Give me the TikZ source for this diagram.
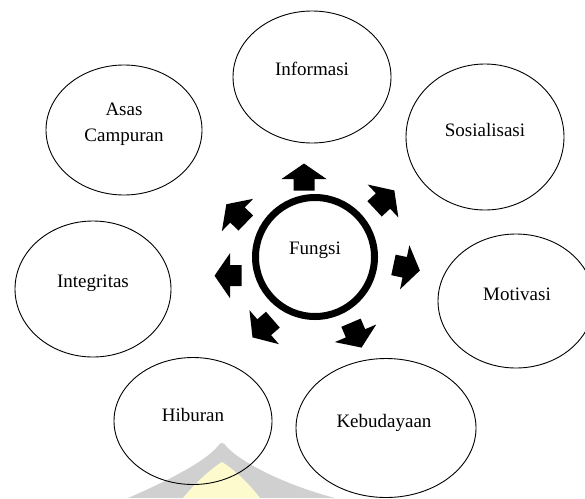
\documentclass[tikz,border=0pt]{standalone}
\usepackage{fontspec}
\setmainfont{Liberation Serif}
\usetikzlibrary{shapes.geometric}

\definecolor{markgray}{RGB}{208,208,208}
\definecolor{markyellow}{RGB}{253,251,205}

\tikzset{
  bubble/.style={draw=black, line width=0.9pt, ellipse, inner sep=0pt},
  caption/.style={anchor=base, inner sep=0pt, font=\fontsize{19}{26}\selectfont},
  hub/.style={circle, draw=black, line width=7pt, minimum size=119pt, inner sep=0pt},
  blockarrow/.pic={
    \fill[black] (15.5,0) -- (0,22.5) -- (0,10.5) -- (-11.5,10.5)
                 -- (-11.5,-10.5) -- (0,-10.5) -- (0,-22.5) -- cycle;
  }
}

\begin{document}
\begin{tikzpicture}[x=1pt, y=-1pt]
  \useasboundingbox (0,0) rectangle (585,498);
  \clip (0,0) rectangle (585,498);
  \fill[white] (0,0) rectangle (585,498);

  % faint emblem along the bottom edge
  \fill[markgray] (128,498) .. controls (165,482) and (205,462) .. (218,446)
      .. controls (220,442) and (224,442) .. (226,446)
      .. controls (240,462) and (285,485) .. (335,498) -- cycle;
  \fill[markyellow] (183,498) .. controls (196,482) and (212,468) .. (222,462)
      .. controls (232,468) and (248,482) .. (260,498) -- cycle;

  % outer ellipses
  \node[bubble, minimum width=158pt, minimum height=132pt] (info) at (312,77) {};
  \node[bubble, minimum width=158pt, minimum height=146pt] (sos)  at (485,137) {};
  \node[bubble, minimum width=156pt, minimum height=130pt] (asas) at (124,130) {};
  \node[bubble, minimum width=156pt, minimum height=136pt] (integ) at (93,289) {};
  \node[bubble, minimum width=156pt, minimum height=134pt] (motiv) at (516,301) {};
  \node[bubble, minimum width=158pt, minimum height=127pt] (hib)  at (193,421) {};
  \node[bubble, minimum width=180pt, minimum height=139pt] (keb)  at (386,428) {};

  % ellipse captions
  \node[caption] (info-t)  at (312,75)  {Informasi};
  \node[caption] (sos-t)   at (485,136) {Sosialisasi};
  \node[caption] (asas-t1) at (124,115) {Asas};
  \node[caption] (asas-t2) at (124,141) {Campuran};
  \node[caption] (integ-t) at (93,287)  {Integritas};
  \node[caption] (motiv-t) at (517,300) {Motivasi};
  \node[caption] (hib-t)   at (193,421) {Hiburan};
  \node[caption] (keb-t)   at (384,427) {Kebudayaan};

  % central ring
  \node[hub] (fungsi) at (315,257) {};
  \node[caption] (fungsi-t) at (315,254) {Fungsi};

  % block arrows around the ring
  \pic[rotate=90]  at (304,179)   {blockarrow};
  \pic[rotate=43]  at (383,201)   {blockarrow};
  \pic[rotate=-12] at (404.7,267.3) {blockarrow};
  \pic[rotate=-67] at (355.5,333.3) {blockarrow};
  \pic[rotate=221] at (264.2,327.2) {blockarrow};
  \pic[rotate=180] at (230,275.7) {blockarrow};
  \pic[rotate=136] at (237.5,215) {blockarrow};
\end{tikzpicture}
\end{document}
